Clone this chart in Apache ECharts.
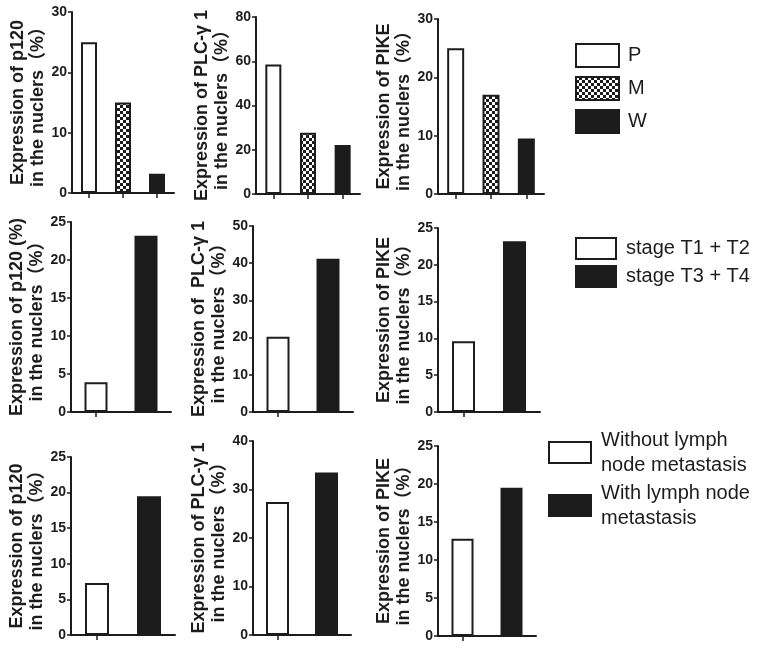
<!DOCTYPE html>
<html><head><meta charset="utf-8">
<script src="https://cdn.jsdelivr.net/npm/echarts@6/dist/echarts.min.js"></script>
<style>html,body{margin:0;padding:0;background:#fff}#c{width:766px;height:649px}</style>
</head><body><div id="c"></div>
<script>
// ---- data ----
const gradeCats = ['P', 'M', 'W'];
const stageCats = ['stage T1 + T2', 'stage T3 + T4'];
const lymphCats = ['Without lymph\nnode metastasis', 'With lymph node\nmetastasis'];

const p120Grade = [25, 15, 3.2];
const plcGrade  = [58.5, 27.7, 22.1];
const pikeGrade = [25, 17, 9.5];
const p120Stage = [3.9, 23.2];
const plcStage  = [20.2, 41.2];
const pikeStage = [9.6, 23.2];
const p120Lymph = [7.3, 19.5];
const plcLymph  = [27.4, 33.5];
const pikeLymph = [12.8, 19.5];

const yMaxes    = [30, 80, 30, 25, 50, 25, 25, 40, 25];
const yIntervals = [10, 20, 10, 5, 10, 5, 5, 10, 5];
const yTitles = [
  'Expression of p120\nin the nuclers（%）',
  'Expression of PLC-γ 1\nin the nuclers（%）',
  'Expression of PIKE\nin the nuclers（%）',
  'Expression of p120 (%)\nin the nuclers（%）',
  'Expression of  PLC-γ 1\nin the nuclers（%）',
  'Expression of PIKE\nin the nuclers（%）',
  'Expression of p120\nin the nuclers（%）',
  'Expression of PLC-γ 1\nin the nuclers（%）',
  'Expression of PIKE\nin the nuclers（%）'
];

// ---- styles ----
const INK = '#1c1c1c';
function checker() {
  const c = document.createElement('canvas');
  c.width = 6; c.height = 6;
  const g = c.getContext('2d');
  g.fillStyle = INK; g.fillRect(0, 0, 6, 6);
  g.fillStyle = '#ffffff'; g.fillRect(0, 0, 3, 3); g.fillRect(3, 3, 3, 3);
  return c;
}
const fills = {
  white: { color: '#ffffff', borderColor: INK, borderWidth: 2 },
  check: { color: { image: checker(), repeat: 'repeat' }, borderColor: INK, borderWidth: 2 },
  dark:  { color: INK, borderColor: INK, borderWidth: 2 }
};

const panels = [
  { cats: gradeCats, values: p120Grade, fills: ['white','check','dark'], bw: 16, grid: [72, 12, 102, 181] },
  { cats: gradeCats, values: plcGrade,  fills: ['white','check','dark'], bw: 16, grid: [256, 17, 104, 177] },
  { cats: gradeCats, values: pikeGrade, fills: ['white','check','dark'], bw: 17, grid: [438, 19, 106, 175] },
  { cats: stageCats, values: p120Stage, fills: ['white','dark'], bw: 23, grid: [71, 222, 100, 190] },
  { cats: stageCats, values: plcStage,  fills: ['white','dark'], bw: 23, grid: [253, 226, 100, 186] },
  { cats: stageCats, values: pikeStage, fills: ['white','dark'], bw: 23, grid: [438, 228, 102, 184] },
  { cats: lymphCats, values: p120Lymph, fills: ['white','dark'], bw: 24, grid: [71, 457, 104, 178] },
  { cats: lymphCats, values: plcLymph,  fills: ['white','dark'], bw: 23, grid: [253, 441, 98, 194] },
  { cats: lymphCats, values: pikeLymph, fills: ['white','dark'], bw: 22, grid: [438, 446, 98, 190] }
];

const FONT = '"Liberation Sans", Arial, "Noto Sans CJK SC", sans-serif';
const grids = [], xAxes = [], yAxes = [], series = [];
panels.forEach((p, k) => {
  grids.push({ left: p.grid[0], top: p.grid[1], width: p.grid[2], height: p.grid[3],
               containLabel: false, outerBoundsMode: 'none' });
  xAxes.push({
    type: 'category', gridIndex: k, data: p.cats,
    axisLine: { lineStyle: { color: INK, width: 2 } },
    axisTick: { show: true, alignWithLabel: true, length: 5, lineStyle: { color: INK, width: 1.5 } },
    axisLabel: { show: false }, splitLine: { show: false }
  });
  yAxes.push({
    type: 'value', gridIndex: k, min: 0, max: yMaxes[k], interval: yIntervals[k],
    axisLine: { show: true, lineStyle: { color: INK, width: 2 } },
    axisTick: { show: true, length: 4, lineStyle: { color: INK, width: 1.5 } },
    axisLabel: { color: INK, fontSize: 14, fontWeight: 'bold', fontFamily: FONT, margin: 5 },
    splitLine: { show: false },
    name: yTitles[k], nameLocation: 'middle', nameRotate: 90, nameGap: 24, nameMoveOverlap: false,
    nameTextStyle: { color: INK, fontSize: 18, fontWeight: 'bold', fontFamily: FONT, lineHeight: 20, align: 'center' }
  });
  p.cats.forEach((cat, g) => {
    series.push({
      type: 'bar', name: cat, xAxisIndex: k, yAxisIndex: k, stack: 'panel' + k,
      barWidth: p.bw, itemStyle: fills[p.fills[g]],
      emphasis: { disabled: true }, animation: false,
      data: p.values.map((v, i) => (i === g ? v : '-'))
    });
  });
});

const legendText = { color: INK, fontSize: 20, fontFamily: FONT };
const option = {
  backgroundColor: '#ffffff',
  animation: false,
  grid: grids, xAxis: xAxes, yAxis: yAxes, series: series,
  legend: [
    { data: gradeCats, orient: 'vertical', left: 570, top: 38, icon: 'rect',
      itemWidth: 43, itemHeight: 23, itemGap: 8, selectedMode: false,
      textStyle: Object.assign({ padding: [0, 0, 0, 4] }, legendText) },
    { data: stageCats, orient: 'vertical', left: 570, top: 232, icon: 'rect',
      itemWidth: 40, itemHeight: 21, itemGap: 5, selectedMode: false,
      textStyle: Object.assign({ padding: [0, 0, 0, 5] }, legendText) },
    { data: lymphCats, orient: 'vertical', left: 543, top: 410, icon: 'rect',
      itemWidth: 42, itemHeight: 21, itemGap: -22, selectedMode: false,
      textStyle: Object.assign({ padding: [25, 0, 0, 5], lineHeight: 25 }, legendText) }
  ]
};
const chart = echarts.init(document.getElementById('c'), null, { renderer: 'canvas' });
chart.setOption(option);
</script>
</body></html>
